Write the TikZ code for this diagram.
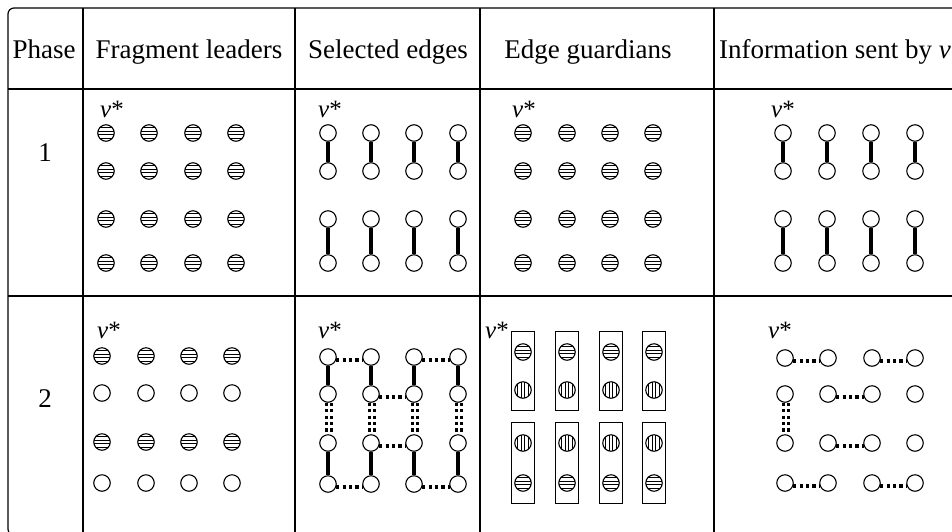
\documentclass[tikz,border=0pt]{standalone}
\usepackage{fontspec}
\setmainfont{Liberation Serif}
\usetikzlibrary{fit}

\tikzset{
  vtx/.style={circle, draw, line width=1.1pt, fill=white, minimum size=16.5pt, inner sep=0pt},
  hh/.style={vtx, path picture={
      \foreach \d in {-5.2,-1.75,1.75,5.2}
        \draw[line width=0.8pt] ([yshift=\d pt]path picture bounding box.west) -- ([yshift=\d pt]path picture bounding box.east);}},
  hv/.style={vtx, path picture={
      \foreach \d in {-5.2,-1.75,1.75,5.2}
        \draw[line width=0.8pt] ([xshift=\d pt]path picture bounding box.north) -- ([xshift=\d pt]path picture bounding box.south);}},
  sel/.style={line width=3.8pt},
  msg/.style={line width=3.2pt, dash pattern=on 3.2pt off 3.2pt},
  rule/.style={line width=1.2pt},
  head/.style={font=\fontsize{27}{31}\selectfont, inner sep=0pt, anchor=base},
  vlab/.style={font=\fontsize{25}{28}\selectfont, inner sep=0pt, anchor=base west},
  guard/.style={draw, line width=1.1pt, inner xsep=2.6pt, inner ysep=11.5pt}
}

\begin{document}
\begin{tikzpicture}[x=1pt, y=-1pt]
\useasboundingbox (0,0) rectangle (952,531);
\clip (0,0) rectangle (952,531);

% table frame and rules
\draw[rule, rounded corners=6pt] (980,535) -- (8,535) -- (8,8) -- (980,8);
\foreach \x in {83,295,480,714} \draw[rule] (\x,8) -- (\x,535);
\draw[rule] (8,89) -- (952,89);
\draw[rule] (8,296) -- (952,296);

% header row
\node[head] (hPhase) at (44,58) {Phase};
\node[head] (hFrag) at (189,58) {Fragment leaders};
\node[head] (hSel) at (388,58) {Selected edges};
\node[head] (hGuard) at (588,58) {Edge guardians};
\node[head, anchor=base west] (hInfo) at (719,58) {Information sent by \textit{v}*};

% phase numbers
\node[head] (p1) at (45,161) {1};
\node[head] (p2) at (45,407) {2};

% ---------- phase 1 ----------
\node[vlab] (vfa) at (100,117) {\textit{v}*};
\node[vlab] (vsa) at (318,117) {\textit{v}*};
\node[vlab] (vea) at (512,117) {\textit{v}*};
\node[vlab] (via) at (771,117) {\textit{v}*};

\foreach \r/\y in {1/133,2/171,3/219,4/263} {
  \foreach \c/\x in {1/106,2/149,3/193,4/236} \node[hh] (fa\r\c) at (\x,\y) {};
  \foreach \c/\x in {1/328,2/371,3/414,4/458} \node[vtx] (sa\r\c) at (\x,\y) {};
  \foreach \c/\x in {1/523,2/567,3/610,4/653} \node[hh] (ea\r\c) at (\x,\y) {};
  \foreach \c/\x in {1/783,2/827,3/871,4/915} \node[vtx] (ia\r\c) at (\x,\y) {};
}
\foreach \c in {1,2,3,4} {
  \draw[sel] (sa1\c) -- (sa2\c);
  \draw[sel] (sa3\c) -- (sa4\c);
  \draw[sel] (ia1\c) -- (ia2\c);
  \draw[sel] (ia3\c) -- (ia4\c);
}

% ---------- phase 2 ----------
\node[vlab] (vfb) at (97,338) {\textit{v}*};
\node[vlab] (vsb) at (318,338) {\textit{v}*};
\node[vlab] (veb) at (485,338) {\textit{v}*};
\node[vlab] (vib) at (768,338) {\textit{v}*};

% fragment leaders
\foreach \c/\x in {1/102,2/146,3/189,4/232} {
  \node[hh]  (fb1\c) at (\x,356) {};
  \node[vtx] (fb2\c) at (\x,393) {};
  \node[hh]  (fb3\c) at (\x,442) {};
  \node[vtx] (fb4\c) at (\x,483) {};
}

% selected edges
\foreach \r/\y in {1/357,2/394,3/443,4/484}
  \foreach \c/\x in {1/328,2/371,3/414,4/458} \node[vtx] (sb\r\c) at (\x,\y) {};
\foreach \c in {1,2,3,4} {
  \draw[sel] (sb1\c) -- (sb2\c);
  \draw[sel] (sb3\c) -- (sb4\c);
  \draw[msg] ([xshift=-1.2pt]sb2\c.south) -- ([xshift=-1.2pt]sb3\c.north);
  \draw[msg] ([xshift=3.6pt]sb2\c.south) -- ([xshift=3.6pt]sb3\c.north);
}
\foreach \a/\b in {11/12,13/14,22/23,32/33,41/42,43/44}
  \draw[msg] (sb\a.-20) -- (sb\b.200);

% edge guardians
\foreach \c/\x in {1/523,2/567,3/611,4/654} {
  \node[hh] (eb1\c) at (\x,352) {};
  \node[hv] (eb2\c) at (\x,390) {};
  \node[hv] (eb3\c) at (\x,443) {};
  \node[hh] (eb4\c) at (\x,483) {};
  \node[guard, fit=(eb1\c)(eb2\c)] (gu\c) {};
  \node[guard, fit=(eb3\c)(eb4\c)] (gl\c) {};
}

% information sent by v*
\foreach \r/\y in {1/358,2/394,3/443,4/483}
  \foreach \c/\x in {1/785,2/828,3/872,4/915} \node[vtx] (ib\r\c) at (\x,\y) {};
\foreach \a/\b in {11/12,13/14,22/23,32/33,41/42,43/44}
  \draw[msg] (ib\a.-20) -- (ib\b.200);
\draw[msg] ([xshift=-1.2pt]ib21.south) -- ([xshift=-1.2pt]ib31.north);
\draw[msg] ([xshift=3.6pt]ib21.south) -- ([xshift=3.6pt]ib31.north);

\end{tikzpicture}
\end{document}
